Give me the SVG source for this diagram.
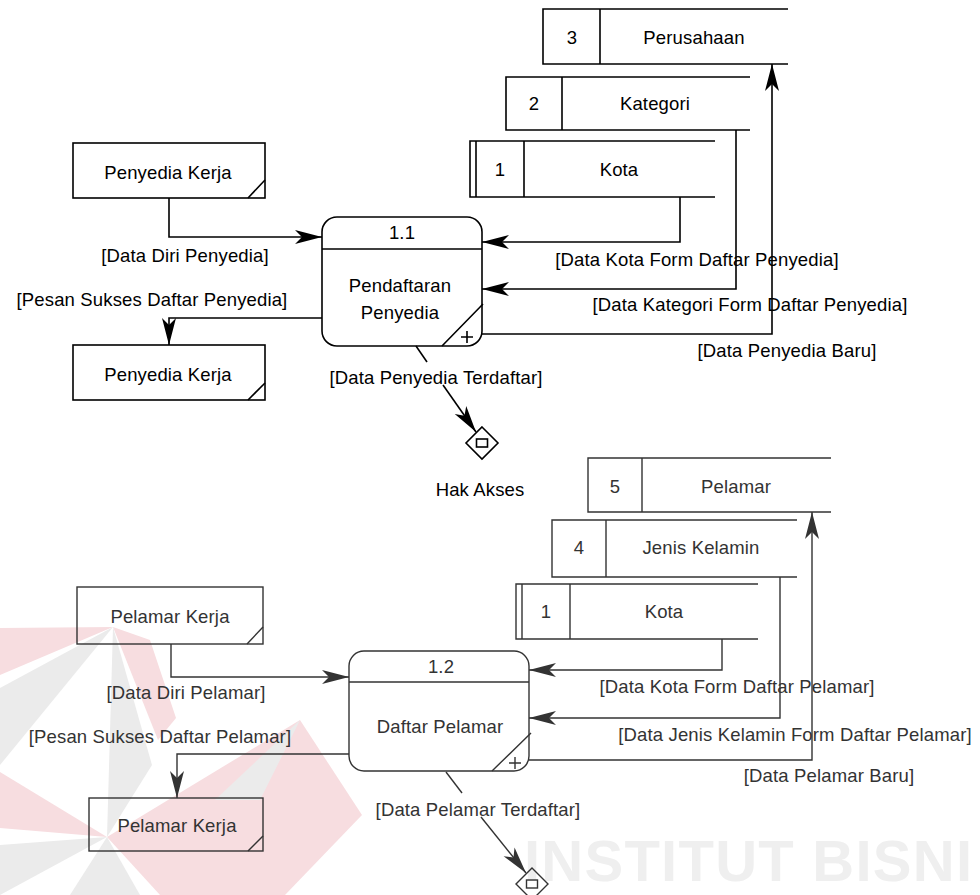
<svg xmlns="http://www.w3.org/2000/svg" width="980" height="895" viewBox="0 0 980 895">
<style>
  text { font-family: "Liberation Sans", Arial, sans-serif; font-size: 18.5px; letter-spacing: 0.15px; text-anchor: middle; }
  .k { fill: #000; }
  .g { fill: #333; }
  .sk { fill: none; stroke: #000; stroke-width: 1.6; }
  .sg { fill: none; stroke: #333; stroke-width: 1.4; }
  .wp { fill: #f7dde0; }
  .wg { fill: #ebebeb; }
  .wt { fill: #efefef; font-weight: bold; font-size: 58px; letter-spacing: 0; text-anchor: start; }
</style>
<defs>
  <marker id="ak" viewBox="-28 -8 29 16" markerWidth="29" markerHeight="16" refX="0" refY="0" orient="auto" markerUnits="userSpaceOnUse">
    <path d="M0,0 L-27,-7 L-20,0 L-27,7 Z" fill="#000"/>
  </marker>
  <marker id="ag" viewBox="-28 -8 29 16" markerWidth="29" markerHeight="16" refX="0" refY="0" orient="auto" markerUnits="userSpaceOnUse">
    <path d="M0,0 L-27,-7 L-20,0 L-27,7 Z" fill="#333"/>
  </marker>
</defs>
<rect x="0" y="0" width="980" height="895" fill="#fff"/>

<g id="watermark">
  <polygon class="wp" points="0,628 113,627 0,675"/>
  <polygon class="wg" points="0,688 113,627 0,765"/>
  <polygon class="wp" points="113,627 150,640 176,718 158,740"/>
  <polygon class="wg" points="113,627 152,765 107,837"/>
  <polygon class="wp" points="0,772 107,837 0,828"/>
  <polygon class="wg" points="0,845 107,837 0,895"/>
  <polygon class="wg" points="107,837 70,895 140,895"/>
  <polygon class="wp" points="300,720 362,815 285,895 160,895 107,837"/>
  <polygon class="wg" points="300,720 215,800 260,800"/>
  <text class="wt" x="524" y="881" textLength="448" lengthAdjust="spacing">INSTITUT BISNI</text>
</g>

<g id="connectors">
  <!-- top -->
  <path class="sk" d="M169,198 V237 H322" marker-end="url(#ak)"/>
  <path class="sk" d="M322,318 H169 V345" marker-end="url(#ak)"/>
  <path class="sk" d="M680,197 V242 H482" marker-end="url(#ak)"/>
  <path class="sk" d="M736,130 V289 H482" marker-end="url(#ak)"/>
  <path class="sk" d="M482,334 H772 V64" marker-end="url(#ak)"/>
  <path class="sk" d="M416,346 L427,362"/>
  <path class="sk" d="M443,385 L476,432" marker-end="url(#ak)"/>
  <!-- bottom -->
  <path class="sg" d="M171,644 V677 H349" marker-end="url(#ag)"/>
  <path class="sg" d="M349,754 H177 V798" marker-end="url(#ag)"/>
  <path class="sg" d="M722,639 V670 H529" marker-end="url(#ag)"/>
  <path class="sg" d="M780,577 V718 H529" marker-end="url(#ag)"/>
  <path class="sg" d="M529,760 H812 V512" marker-end="url(#ag)"/>
  <path class="sg" d="M446,772 L462,793"/>
  <path class="sg" d="M481,817 L526,873" marker-end="url(#ag)"/>
</g>

<g id="store-3-perusahaan">
  <path class="sk" d="M788,9 H543 V64 H788 M600,9 V64"/>
  <text class="k" x="572" y="44">3</text>
  <text class="k" x="694" y="44">Perusahaan</text>
</g>
<g id="store-2-kategori">
  <path class="sk" d="M750,77 H506 V130 H750 M562,77 V130"/>
  <text class="k" x="534" y="110">2</text>
  <text class="k" x="655" y="110">Kategori</text>
</g>
<g id="store-1-kota-a">
  <path class="sk" d="M715,141 H470 V197 H715 M476,141 V197 M524,141 V197"/>
  <text class="k" x="500" y="176">1</text>
  <text class="k" x="619" y="176">Kota</text>
</g>

<g id="entity-penyedia-kerja-in">
  <rect class="sk" x="73" y="143" width="192" height="55"/>
  <path class="sk" d="M248,198 L265,180"/>
  <text class="k" x="168" y="179">Penyedia Kerja</text>
</g>
<g id="entity-penyedia-kerja-out">
  <rect class="sk" x="73" y="345" width="192" height="55"/>
  <path class="sk" d="M248,400 L265,383"/>
  <text class="k" x="168" y="381">Penyedia Kerja</text>
</g>

<g id="process-1-1">
  <rect class="sk" x="322" y="217" width="160" height="129" rx="15" ry="15"/>
  <path class="sk" d="M322,249 H482 M442,346 L483,304 M461,337 H473 M467,331 V343"/>
  <text class="k" x="402" y="239">1.1</text>
  <text class="k" x="400" y="292">Pendaftaran</text>
  <text class="k" x="400" y="319">Penyedia</text>
</g>

<g id="hak-akses-1">
  <path class="sk" d="M482,427 L498,443 L482,459 L466,443 Z"/>
  <rect class="sk" x="476.5" y="439" width="11" height="8"/>
  <text class="k" x="480" y="496">Hak Akses</text>
</g>

<g id="labels-top">
  <text class="k" x="185" y="262">[Data Diri Penyedia]</text>
  <text class="k" x="152" y="306">[Pesan Sukses Daftar Penyedia]</text>
  <text class="k" x="436" y="384">[Data Penyedia Terdaftar]</text>
  <text class="k" x="697" y="266">[Data Kota Form Daftar Penyedia]</text>
  <text class="k" x="750" y="311">[Data Kategori Form Daftar Penyedia]</text>
  <text class="k" x="787" y="357">[Data Penyedia Baru]</text>
</g>

<g id="store-5-pelamar">
  <path class="sg" d="M831,458 H588 V512 H831 M642,458 V512"/>
  <text class="g" x="615" y="493">5</text>
  <text class="g" x="736" y="493">Pelamar</text>
</g>
<g id="store-4-jenis-kelamin">
  <path class="sg" d="M797,520 H552 V577 H797 M606,520 V577"/>
  <text class="g" x="579" y="554">4</text>
  <text class="g" x="701" y="554">Jenis Kelamin</text>
</g>
<g id="store-1-kota-b">
  <path class="sg" d="M758,584 H516 V639 H758 M522,584 V639 M570,584 V639"/>
  <text class="g" x="546" y="618">1</text>
  <text class="g" x="664" y="618">Kota</text>
</g>

<g id="entity-pelamar-kerja-in">
  <rect class="sg" x="77" y="587" width="186" height="57"/>
  <path class="sg" d="M247,644 L263,627"/>
  <text class="g" x="170" y="623">Pelamar Kerja</text>
</g>
<g id="entity-pelamar-kerja-out">
  <rect class="sg" x="89" y="798" width="174" height="53"/>
  <path class="sg" d="M248,851 L263,836"/>
  <text class="g" x="177" y="832">Pelamar Kerja</text>
</g>

<g id="process-1-2">
  <rect class="sg" x="349" y="651" width="180" height="120" rx="15" ry="15"/>
  <path class="sg" d="M349,682 H529 M492,771 L531,733 M509,763 H521 M515,757 V769"/>
  <text class="g" x="441" y="673">1.2</text>
  <text class="g" x="440" y="733">Daftar Pelamar</text>
</g>

<g id="hak-akses-2">
  <path class="sg" d="M532,868 L548,884 L532,900 L516,884 Z"/>
  <rect class="sg" x="526.5" y="880" width="11" height="8"/>
</g>

<g id="labels-bottom">
  <text class="g" x="186" y="699">[Data Diri Pelamar]</text>
  <text class="g" x="160" y="743">[Pesan Sukses Daftar Pelamar]</text>
  <text class="g" x="478" y="816">[Data Pelamar Terdaftar]</text>
  <text class="g" x="737" y="693">[Data Kota Form Daftar Pelamar]</text>
  <text class="g" x="795" y="741">[Data Jenis Kelamin Form Daftar Pelamar]</text>
  <text class="g" x="829" y="782">[Data Pelamar Baru]</text>
</g>
</svg>
